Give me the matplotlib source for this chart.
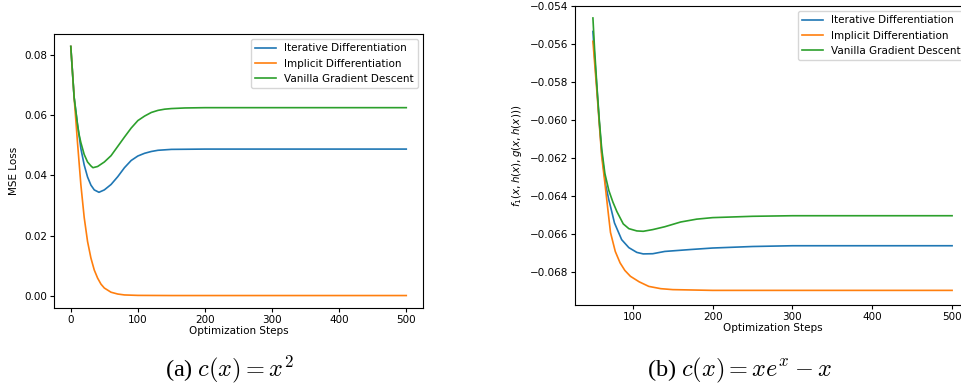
import matplotlib
matplotlib.use("Agg")
import matplotlib.pyplot as plt

# ---- data: panel (a) c(x) = x^2 ----
a_iter_steps = [0, 5, 10, 12, 15, 20, 25, 30, 35, 42, 50, 60, 70, 80, 90, 100, 110, 120, 130, 150, 200, 300, 400, 500]
a_iter_vals = [0.083, 0.066, 0.057, 0.054, 0.049, 0.0435, 0.0395, 0.0368, 0.0352, 0.0344, 0.0352, 0.0370, 0.0396, 0.0426, 0.0450, 0.0465, 0.0474, 0.0480, 0.0484, 0.0487, 0.0488, 0.0488, 0.0488, 0.0488]

a_impl_steps = [0, 5, 10, 15, 20, 25, 30, 35, 40, 45, 50, 60, 70, 80, 100, 150, 200, 300, 400, 500]
a_impl_vals = [0.083, 0.066, 0.051, 0.037, 0.026, 0.018, 0.0125, 0.0085, 0.0058, 0.0038, 0.0025, 0.0011, 0.0005, 0.0002, 0.00005, 0.0, 0.0, 0.0, 0.0, 0.0]

a_gd_steps = [0, 5, 10, 12, 15, 20, 25, 30, 33, 40, 50, 60, 70, 80, 90, 100, 110, 120, 130, 140, 150, 170, 200, 300, 400, 500]
a_gd_vals = [0.083, 0.066, 0.057, 0.054, 0.051, 0.047, 0.0445, 0.0432, 0.0426, 0.0430, 0.0445, 0.0466, 0.0497, 0.0528, 0.0558, 0.0583, 0.0598, 0.0610, 0.0617, 0.0621, 0.0623, 0.0625, 0.0626, 0.0626, 0.0626, 0.0626]

# ---- data: panel (b) c(x) = x e^x - x ----
b_iter_steps = [50, 52, 55, 58, 61, 66, 70, 73, 77, 86, 95, 105, 113, 125, 140, 172, 200, 250, 300, 400, 500]
b_iter_vals = [-0.05532, -0.0566, -0.0583, -0.0601, -0.0617, -0.0634, -0.0642, -0.0647, -0.0654, -0.06628, -0.0667, -0.06695, -0.06703, -0.06702, -0.0669, -0.0668, -0.06672, -0.06664, -0.06660, -0.06660, -0.06660]

b_impl_steps = [50, 52, 55, 58, 61, 65, 69, 72, 78, 84, 90, 97, 108, 120, 135, 150, 200, 300, 400, 500]
b_impl_vals = [-0.05584, -0.0569, -0.0585, -0.0602, -0.0619, -0.0633, -0.0648, -0.0659, -0.0669, -0.0675, -0.0679, -0.06821, -0.0685, -0.06874, -0.06886, -0.06891, -0.06895, -0.06895, -0.06895, -0.06895]

b_gd_steps = [50, 52, 55, 58, 61, 65, 70, 75, 80, 88, 95, 105, 113, 125, 140, 160, 180, 200, 250, 300, 400, 500]
b_gd_vals = [-0.05461, -0.0562, -0.0582, -0.0600, -0.0615, -0.0628, -0.0637, -0.0643, -0.0648, -0.06545, -0.0657, -0.06582, -0.06584, -0.06575, -0.0656, -0.06535, -0.0652, -0.06512, -0.06505, -0.06502, -0.06502, -0.06502]

labels = ["Iterative Differentiation", "Implicit Differentiation", "Vanilla Gradient Descent"]
colors = ["#1f77b4", "#ff7f0e", "#2ca02c"]
a_xticks = [0, 100, 200, 300, 400, 500]
a_yticks = [0.00, 0.02, 0.04, 0.06, 0.08]
b_xticks = [100, 200, 300, 400, 500]
b_yticks = [-0.054, -0.056, -0.058, -0.060, -0.062, -0.064, -0.066, -0.068]
captions = [r"(a) $c(x) = x^2$", r"(b) $c(x) = xe^x - x$"]

FS = 7.5
fig = plt.figure(figsize=(9.61, 3.88), dpi=100)

ax1 = fig.add_axes([0.0562, 0.2062, 0.3840, 0.7062])
ax1.plot(a_iter_steps, a_iter_vals, color=colors[0], lw=1.2, label=labels[0])
ax1.plot(a_impl_steps, a_impl_vals, color=colors[1], lw=1.2, label=labels[1])
ax1.plot(a_gd_steps, a_gd_vals, color=colors[2], lw=1.2, label=labels[2])
ax1.set_xticks(a_xticks)
ax1.set_yticks(a_yticks)
ax1.set_xlabel("Optimization Steps", fontsize=FS, labelpad=1)
ax1.set_ylabel("MSE Loss", fontsize=FS)
ax1.tick_params(labelsize=FS, length=3, pad=2)
ax1.legend(loc="upper right", fontsize=FS)

ax2 = fig.add_axes([0.5983, 0.2139, 0.4111, 0.7706])
ax2.plot(b_iter_steps, b_iter_vals, color=colors[0], lw=1.2, label=labels[0])
ax2.plot(b_impl_steps, b_impl_vals, color=colors[1], lw=1.2, label=labels[1])
ax2.plot(b_gd_steps, b_gd_vals, color=colors[2], lw=1.2, label=labels[2])
ax2.set_xticks(b_xticks)
ax2.set_yticks(b_yticks)
ax2.set_ylim(-0.06972, -0.05398)
ax2.set_xlabel("Optimization Steps", fontsize=FS, labelpad=1)
ax2.set_ylabel(r"$f_1(x, h(x), g(x, h(x)))$", fontsize=FS)
ax2.tick_params(labelsize=FS, length=3, pad=2)
ax2.legend(loc="upper right", fontsize=FS)

fig.text(0.239, 0.031, captions[0], fontsize=17.5, ha="center",
         family="Liberation Serif", math_fontfamily="cm")
fig.text(0.7697, 0.031, captions[1], fontsize=17.5, ha="center",
         family="Liberation Serif", math_fontfamily="cm")

fig.savefig("out.png", dpi=100)
